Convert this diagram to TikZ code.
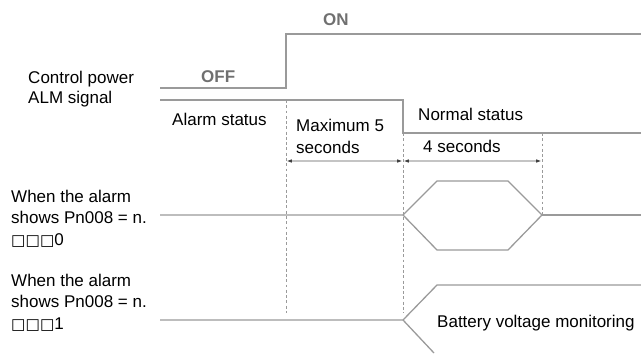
\documentclass[tikz,border=0pt]{standalone}
\usepackage{fontspec}
\setmainfont{Liberation Sans}
\newfontfamily\boxfont{DejaVu Sans}
\usepackage{xcolor}
\usetikzlibrary{arrows.meta,positioning}

\definecolor{wavegray}{HTML}{9A9A9A}
\definecolor{dimgray}{HTML}{C4C4C4}
\definecolor{labgray}{HTML}{707070}

\begin{document}
\begin{tikzpicture}[
  x=0.03cm, y=-0.03cm,
  wave/.style={draw=wavegray, line width=1.1pt, line join=miter},
  guide/.style={draw=wavegray, line width=0.8pt, dash pattern=on 2.5pt off 2pt},
  dim/.style={{Latex[length=5pt,width=3pt,color=black!75]}-{Latex[length=5pt,width=3pt,color=black!75]},
    draw=dimgray, line width=1pt},
  txt/.style={anchor=base west, inner sep=0pt, font=\fontsize{14.5}{18}\selectfont, text=black},
  lvl/.style={anchor=base west, inner sep=0pt, font=\fontsize{14.5}{18}\selectfont\bfseries, text=labgray},
]
  \useasboundingbox (0,0) rectangle (641,353);

  % signal labels (base = last line)
  \node[txt] (cpw) at (28,83)  {Control power};
  \node[txt] (alm) at (28,103) {ALM signal};
  \node[txt, align=left] (wa0) at (11,245) {When the alarm\\shows Pn008 = n.\\\boxfont\fontsize{13}{18}\selectfont □□□\rmfamily\fontsize{14.5}{18}\selectfont 0};
  \node[txt, align=left] (wa1) at (11,329) {When the alarm\\shows Pn008 = n.\\\boxfont\fontsize{13}{18}\selectfont □□□\rmfamily\fontsize{14.5}{18}\selectfont 1};

  % time marks
  \coordinate (t0) at (160,0);
  \coordinate (t1) at (286,0);
  \coordinate (t2) at (403,0);
  \coordinate (t3) at (542,0);
  \coordinate (hx) at (437,0);
  \coordinate (hy) at (508,0);
  \coordinate (te) at (641,0);

  % control power
  \draw[wave] (t0 |- 0,88) -- (t1 |- 0,88) -- (t1 |- 0,34) -- (te |- 0,34);
  \node[lvl] (off) at (201,82) {OFF};
  \node[lvl] (on)  at (323,25) {ON};

  % alm signal
  \draw[wave] (t0 |- 0,100) -- (t2 |- 0,100) -- (t2 |- 0,133) -- (te |- 0,133);
  \node[txt] (als) at (172,125) {Alarm status};
  \node[txt, align=left] (mx5) at (296,153) {Maximum 5\\seconds};
  \node[txt] (nst) at (418,120) {Normal status};
  \node[txt] (fsc) at (423,152) {4 seconds};

  % guides
  \draw[guide] (t1 |- 0,100) -- (t1 |- 0,313);
  \draw[guide] (t2 |- 0,133) -- (t2 |- 0,313);
  \draw[guide] (t3 |- 0,133) -- (t3 |- 0,215);

  % durations
  \draw[dim] (t1 |- 0,161) -- (t2 |- 0,161);
  \draw[dim] (t2 |- 0,161) -- (t3 |- 0,161);

  % Pn008 = n.0
  \draw[wave] (t0 |- 0,215) -- (t2 |- 0,215) -- (hx |- 0,181) -- (hy |- 0,181)
    -- (t3 |- 0,215) -- (hy |- 0,250) -- (hx |- 0,250) -- (t2 |- 0,215);
  \draw[wave] (t3 |- 0,215) -- (te |- 0,215);

  % Pn008 = n.1
  \draw[wave] (t0 |- 0,320) -- (t2 |- 0,320) -- (hx |- 0,285) -- (te |- 0,285);
  \draw[wave] (t2 |- 0,320) -- (434,353);
  \node[txt] (bvm) at (437,327) {Battery voltage monitoring};
\end{tikzpicture}
\end{document}
